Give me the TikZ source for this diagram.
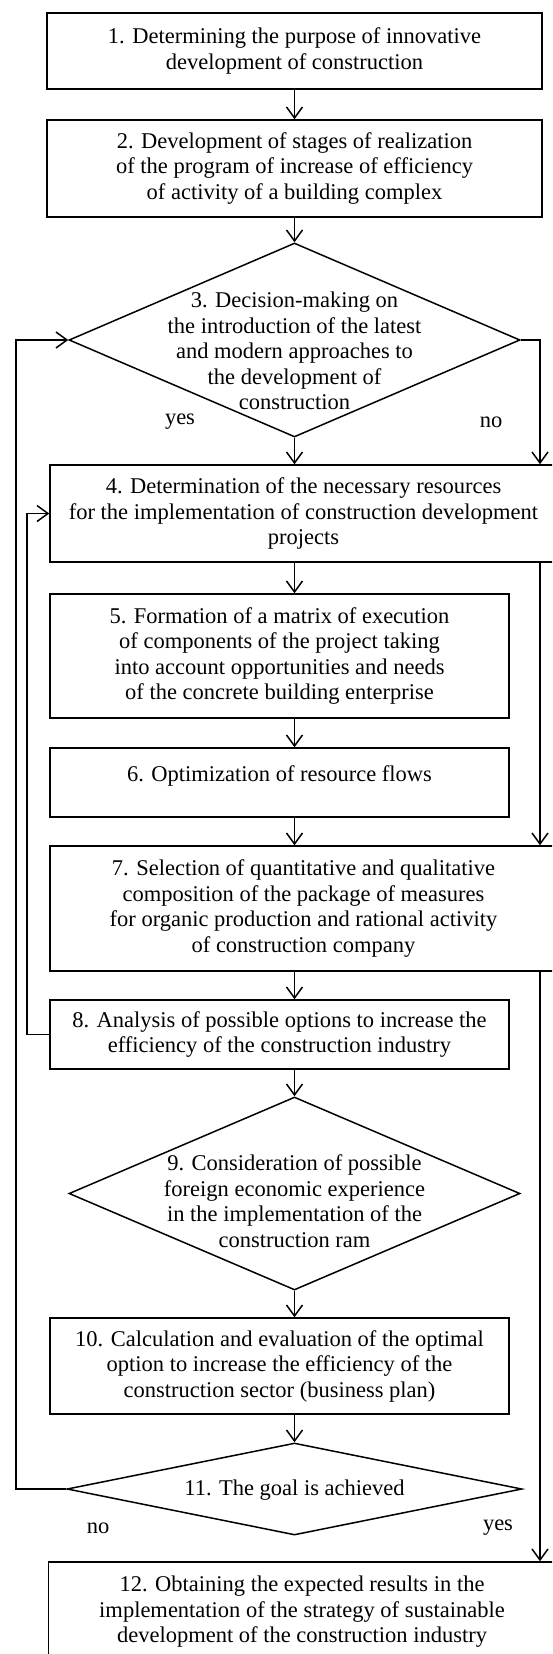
\documentclass[tikz,border=0pt]{standalone}
\usepackage{fontspec}
\setmainfont{Liberation Serif}
\usetikzlibrary{arrows.meta,shapes.geometric}

\begin{document}
\begin{tikzpicture}[x=1pt,y=-1pt,
		every node/.style={font=\fontsize{22.5}{25.5}\selectfont, align=center, inner sep=0pt},
		box/.style={draw, line width=1.5pt, minimum width=459pt},
		wide/.style={box, minimum width=507pt},
		dia/.style={draw, diamond, line width=1.5pt, minimum width=451pt},
		ln/.style={line width=1.5pt},
		arr/.style={ln, -{Straight Barb[length=11pt,width=16pt]}}]
			\useasboundingbox (0,0) rectangle (552,1654);
			\clip (0,0) rectangle (552,1654);
			\coordinate (mid) at (294.5,0);
			\coordinate (rline) at (540,0);
			\coordinate (inl) at (27,0);
			\coordinate (outl) at (16,0);
			% blocks
			\node[box, minimum width=495pt, minimum height=76pt] (b1) at (294.5,51) {1. Determining the purpose of innovative\\ development of construction};
			\node[box, minimum width=495pt, minimum height=97pt] (b2) at (294.5,168.5) {2. Development of stages of realization\\ of the program of increase of efficiency\\ of activity of a building complex};
			\node[dia, minimum height=194pt] (d3) at (294.5,340) {};
			\node (t3) at (294.5,351) {3. Decision-making on\\ the introduction of the latest\\ and modern approaches to\\ the development of\\ construction};
			\node[wide, minimum height=97pt] (b4) at (303.5,513.5) {4. Determination of the necessary resources\\ for the implementation of construction development\\ projects};
			\node[box, minimum height=124pt] (b5) at (279.5,656) {5. Formation of a matrix of execution\\ of components of the project taking\\ into account opportunities and needs\\ of the concrete building enterprise};
			\node[box, minimum height=69pt] (b6) at (279.5,782.5) {6. Optimization of resource flows\\[-7pt] \mbox{}};
			\node[wide, minimum height=125pt] (b7) at (303.5,908.5) {7. Selection of quantitative and qualitative\\ composition of the package of measures\\ for organic production and rational activity\\ of construction company};
			\node[box, minimum height=69pt] (b8) at (279.5,1034.5) {8. Analysis of possible options to increase the\\ efficiency of the construction industry};
			\node[dia, minimum height=193pt] (d9) at (294.5,1193.5) {};
			\node (t9) at (294.5,1201) {9. Consideration of possible\\ foreign economic experience\\ in the implementation of the\\ construction ram};
			\node[box, minimum height=96pt] (b10) at (279.5,1366) {10. Calculation and evaluation of the optimal\\ option to increase the efficiency of the\\ construction sector (business plan)};
			\node[dia, minimum width=455pt, minimum height=92pt] (d11) at (294.5,1489) {};
			\node (t11) at (294.5,1490) {11. The goal is achieved};
			\node[wide, minimum height=100pt] (b12) at (302,1612) {12. Obtaining the expected results in the\\ implementation of the strategy of sustainable\\ development of the construction industry};
			% yes / no
			\node (y3) at (180,422) {yes};
			\node (n3) at (491,422) {no};
			\node (n11) at (98,1528) {no};
			\node (y11) at (498,1528) {yes};
			% arrows
			\draw[arr] (b1.south) -- (b2.north);
			\draw[arr] (b2.south) -- (d3.north);
			\draw[arr] (d3.south) -- (d3.south |- b4.north);
			\draw[arr] (d3.east) -| (b4.north -| rline);
			\draw[arr] (b4.south -| mid) -- (b5.north -| mid);
			\draw[arr] (b5.south -| mid) -- (b6.north -| mid);
			\draw[arr] (b6.south -| mid) -- (b7.north -| mid);
			\draw[arr] (b4.south -| rline) -- (b7.north -| rline);
			\draw[arr] (b7.south -| mid) -- (b8.north -| mid);
			\draw[arr] (b7.south -| rline) -- (b12.north -| rline);
			\draw[arr] (b8.south -| mid) -- (d9.north);
			\draw[arr] (d9.south) -- (b10.north -| mid);
			\draw[arr] (b10.south -| mid) -- (d11.north);
			% back loops
			\draw[arr] (b8.west) -- (b8.west -| inl) |- (b4.west);
			\draw[arr] (d11.west) -- (d11.west -| outl) |- (d3.west);
\end{tikzpicture}
\end{document}
